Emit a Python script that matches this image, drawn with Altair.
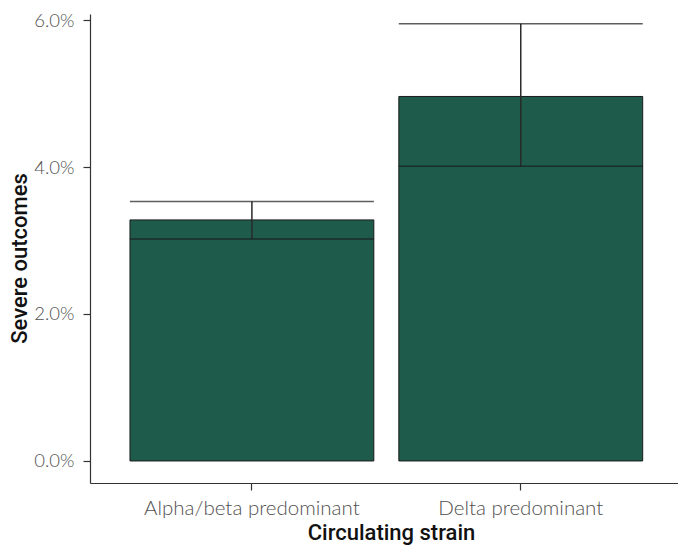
import altair as alt
import pandas as pd

strains = ["Alpha/beta predominant", "Delta predominant"]
rate = [0.0328, 0.0496]
lower = [0.0302, 0.0401]
upper = [0.0353, 0.0595]
y_ticks = [0.0, 0.02, 0.04, 0.06]

df = pd.DataFrame({"strain": strains, "rate": rate, "lower": lower, "upper": upper})

LABEL_FONT = "Lato"
TITLE_FONT = "Roboto"

xscale = alt.Scale(paddingInner=0.093, paddingOuter=0.14, align=0.531)
yscale = alt.Scale(domain=[-0.003, 0.06082], nice=False, zero=False)

x_enc = alt.X("strain:N", scale=xscale, sort=strains,
              axis=alt.Axis(title="Circulating strain", labelAngle=0, labelLimit=0,
                            titleX=301, titleY=56, titleBaseline="alphabetic", titleAlign="center"))
y_enc = alt.Y("rate:Q", scale=yscale,
              axis=alt.Axis(title="Severe outcomes", format=".1%", values=y_ticks,
                            titleAngle=270, titleX=-64, titleY=244,
                            titleBaseline="alphabetic", titleAlign="center",
                            labelFontSize=18.5, labelPadding=9))

bars = alt.Chart(df).mark_bar(color="#1f5b4b", stroke="#1a1a1a", strokeWidth=1).encode(
    x=x_enc, y=y_enc, y2=alt.Y2(datum=0)
)

rule = alt.Chart(df).mark_rule(color="#2a2a2a", strokeWidth=1.5).encode(
    x=alt.X("strain:N", scale=xscale, sort=strains),
    y=alt.Y("lower:Q", scale=yscale),
    y2="upper:Q",
)

tick_lo = alt.Chart(df).mark_tick(color="#1a1a1a", thickness=1.5, size=244, orient="horizontal").encode(
    x=alt.X("strain:N", scale=xscale, sort=strains),
    y=alt.Y("lower:Q", scale=yscale),
)
tick_hi = alt.Chart(df).mark_tick(color="#1a1a1a", thickness=1.5, size=244, orient="horizontal").encode(
    x=alt.X("strain:N", scale=xscale, sort=strains),
    y=alt.Y("upper:Q", scale=yscale),
)

chart = alt.layer(bars, rule, tick_lo, tick_hi).properties(
    width=588, height=469,
    autosize=alt.AutoSizeParams(type="none"),
    padding={"left": 82, "top": 6, "right": 0, "bottom": 65},
).configure_view(stroke=None).configure_axis(
    grid=False,
    domainColor="#333333", domainWidth=1.2,
    tickColor="#333333", tickWidth=1.2, tickSize=7,
    labelFont=LABEL_FONT, labelFontSize=20.5, labelFontWeight=300, labelColor="#505050",
    labelPadding=8,
    titleFont=TITLE_FONT, titleFontSize=22, titleFontWeight=500, titleColor="#111111",
)

chart.save("out.html", embed_options={"renderer": "svg", "actions": False})
